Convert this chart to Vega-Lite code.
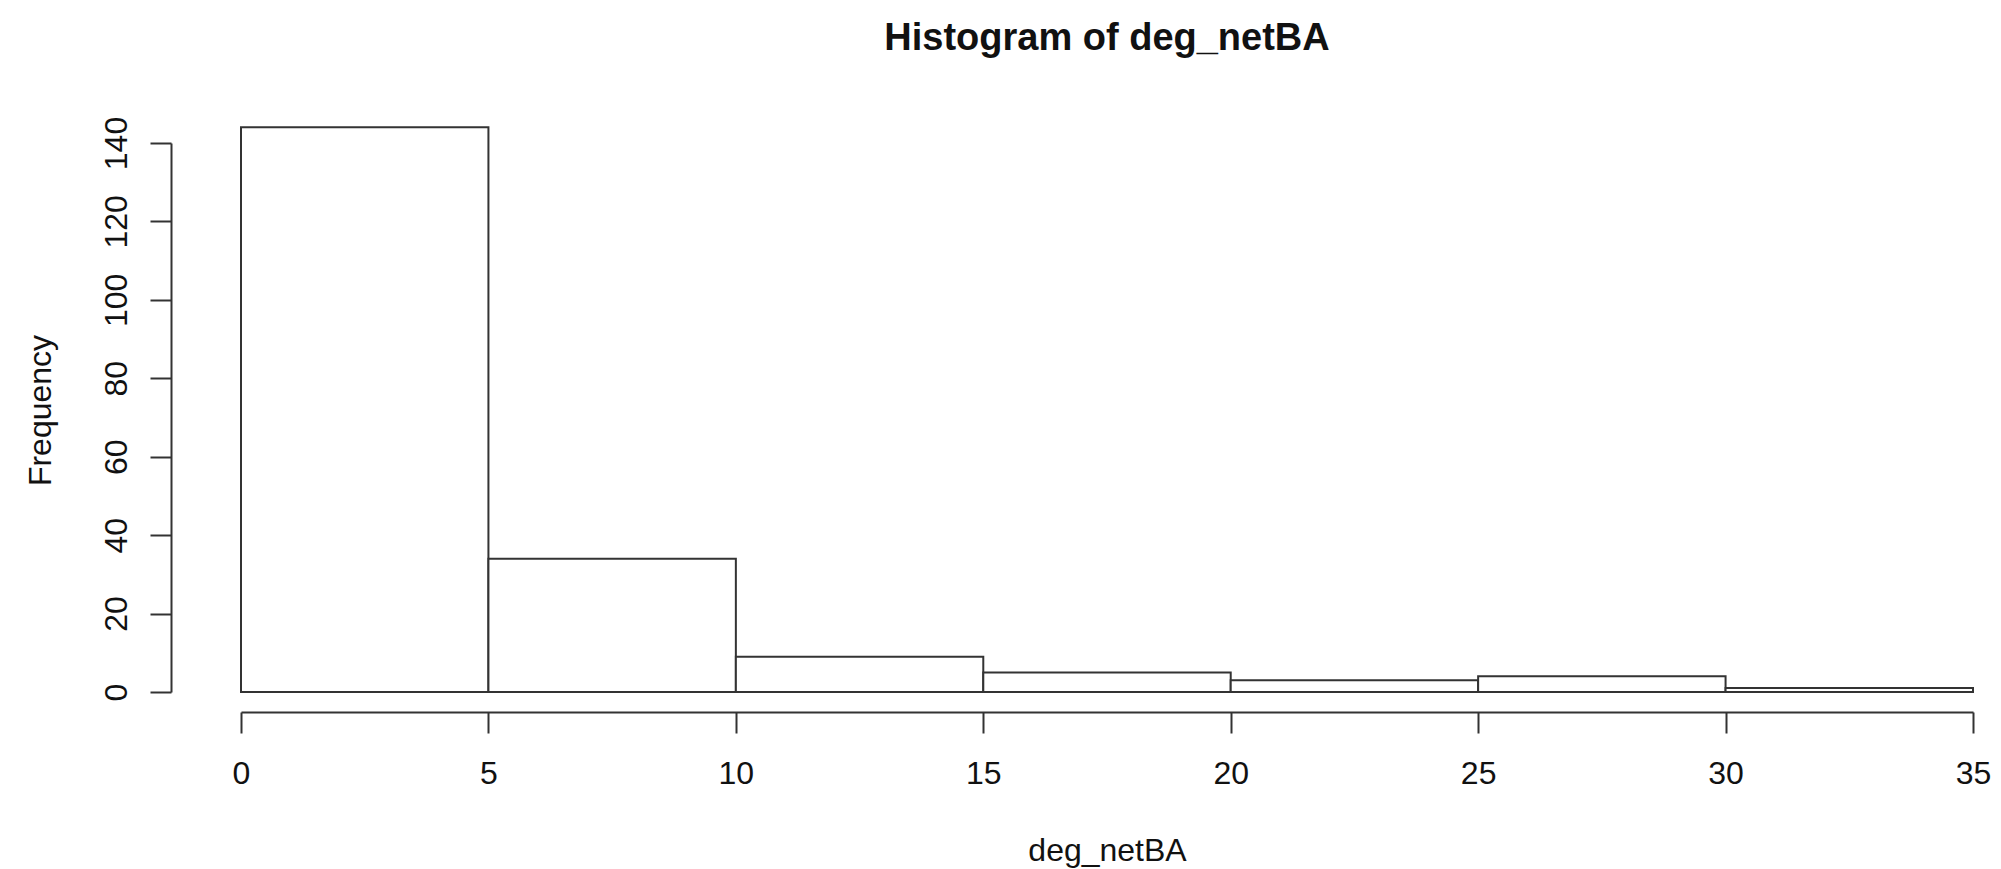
{
  "$schema": "https://vega.github.io/schema/vega-lite/v6.json",
  "width": 1732,
  "height": 549,
  "autosize": {"type": "none"},
  "padding": {"left": 241, "top": 143, "right": 28, "bottom": 177},
  "background": "white",
  "title": {
    "text": "Histogram of deg_netBA",
    "font": "Liberation Sans",
    "fontSize": 38,
    "fontWeight": "bold",
    "color": "#111",
    "anchor": "middle",
    "baseline": "alphabetic",
    "offset": 28
  },
  "data": {
    "values": [
      {"bin_start": 0, "bin_end": 5, "count": 144},
      {"bin_start": 5, "bin_end": 10, "count": 34},
      {"bin_start": 10, "bin_end": 15, "count": 9},
      {"bin_start": 15, "bin_end": 20, "count": 5},
      {"bin_start": 20, "bin_end": 25, "count": 3},
      {"bin_start": 25, "bin_end": 30, "count": 4},
      {"bin_start": 30, "bin_end": 35, "count": 1}
    ]
  },
  "mark": {"type": "rect", "fill": "white", "stroke": "#333", "strokeWidth": 2},
  "encoding": {
    "x": {
      "field": "bin_start",
      "type": "quantitative",
      "scale": {"domain": [0, 35], "nice": false, "zero": false},
      "axis": {
        "values": [0, 5, 10, 15, 20, 25, 30, 35],
        "title": "deg_netBA",
        "offset": 20,
        "tickSize": 21,
        "labelPadding": 50,
        "labelBaseline": "alphabetic",
        "labelAngle": 0,
        "labelAlign": "center",
        "labelFlush": false,
        "labelOverlap": false,
        "titleBaseline": "alphabetic",
        "titleY": 148,
        "titleAnchor": "middle"
      }
    },
    "x2": {"field": "bin_end"},
    "y": {
      "field": "count",
      "type": "quantitative",
      "scale": {"domain": [0, 140], "nice": false, "zero": true},
      "axis": {
        "values": [0, 20, 40, 60, 80, 100, 120, 140],
        "title": "Frequency",
        "offset": 70,
        "tickSize": 21,
        "labelPadding": 24,
        "labelAngle": 270,
        "labelAlign": "center",
        "labelBaseline": "alphabetic",
        "labelFlush": false,
        "labelOverlap": false,
        "titleAngle": 270,
        "titleBaseline": "alphabetic",
        "titleAlign": "center",
        "titleX": -121,
        "titleY": 267
      }
    },
    "y2": {"datum": 0}
  },
  "config": {
    "view": {"stroke": null},
    "axis": {
      "grid": false,
      "domainColor": "#333",
      "domainWidth": 2,
      "tickColor": "#333",
      "tickWidth": 2,
      "labelFont": "Liberation Sans",
      "labelFontSize": 32,
      "labelColor": "#111",
      "titleFont": "Liberation Sans",
      "titleFontSize": 32,
      "titleFontWeight": "normal",
      "titleColor": "#111"
    }
  }
}
